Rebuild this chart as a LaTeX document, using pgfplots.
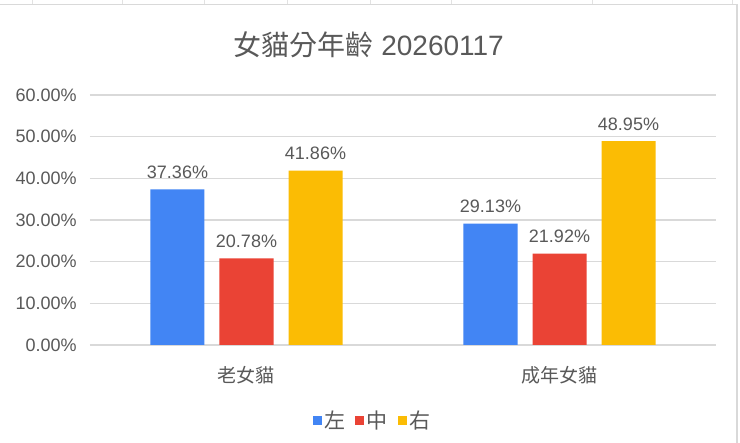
\documentclass[border=0pt]{standalone}
\usepackage{fontspec}
\setmainfont{Liberation Sans}
\newfontfamily\cjk{Noto Sans CJK TC}
\usepackage{pgfplots}
\pgfplotsset{compat=1.18}

\definecolor{gblue}{HTML}{4285F4}
\definecolor{gred}{HTML}{EA4335}
\definecolor{gyellow}{HTML}{FBBC04}
\definecolor{txt}{HTML}{595959}
\definecolor{gridc}{HTML}{D9D9D9}
\definecolor{cellc}{HTML}{E2E2E2}

\begin{document}
\begin{tikzpicture}
% page = 740x443 px, 1px = 0.75pt
\path[use as bounding box, fill=white] (0,0) rectangle (555pt,332.25pt);
% spreadsheet strip and chart frame
\foreach \cx in {32,122,204,287,370,451,592,732}
  \draw[cellc, line width=0.6pt] (\cx*0.75pt,332.25pt) -- (\cx*0.75pt,328.9pt);
\draw[gridc, line width=1.1pt] (0,328.9pt) -- (552.9pt,328.9pt) -- (552.9pt,0);

\node[font=\fontsize{21}{24}\selectfont, text=txt, anchor=center]
  at (276.5pt,298.5pt) {{\cjk 女貓分年齡} 20260117};

\begin{axis}[
  at={(67.5pt,73.5pt)}, anchor=south west,
  scale only axis, width=469.5pt, height=187.5pt,
  ybar=11.25pt, bar width=40.5pt,
  xmin=-0.5, xmax=1.5, ymin=0, ymax=60,
  axis line style={draw=none},
  major tick length=0pt,
  xtick={0,1}, xticklabels={{\cjk 老女貓},{\cjk 成年女貓}},
  ytick={0,10,20,30,40,50,60},
  yticklabels={0.00\%,10.00\%,20.00\%,30.00\%,40.00\%,50.00\%,60.00\%},
  ymajorgrids, major grid style={gridc, line width=0.9pt},
  yticklabel style={font=\fontsize{13.5}{16}\selectfont, text=txt, anchor=east, inner sep=0pt, xshift=-9.75pt},
  xticklabel style={font=\fontsize{14.25}{17}\selectfont, text=txt, anchor=base, inner sep=0pt, yshift=-28.5pt},
  /pgf/number format/assume math mode=true,
  nodes near coords={\pgfmathprintnumber[fixed,fixed zerofill,precision=2]{\pgfplotspointmeta}\%},
  every node near coord/.append style={font=\fontsize{13.5}{16}\selectfont, text=txt, anchor=base, inner sep=0pt, yshift=8.25pt},
  legend style={at={(rel axis cs:0.452,-0.302)}, anchor=center, draw=none, fill=none,
    legend columns=-1, font=\fontsize{15.75}{18}\selectfont\cjk, text=txt,
    /tikz/every even column/.append style={column sep=5.5pt}},
  legend image code/.code={\fill[#1] (0pt,-3.6pt) rectangle (6.75pt,3.6pt);},
  clip=false,
]
\addplot[fill=gblue, draw=none] coordinates {(0,37.36) (1,29.13)};
\addplot[fill=gred, draw=none] coordinates {(0,20.78) (1,21.92)};
\addplot[fill=gyellow, draw=none] coordinates {(0,41.86) (1,48.95)};
\legend{左,中,右}
\end{axis}
\end{tikzpicture}
\end{document}
